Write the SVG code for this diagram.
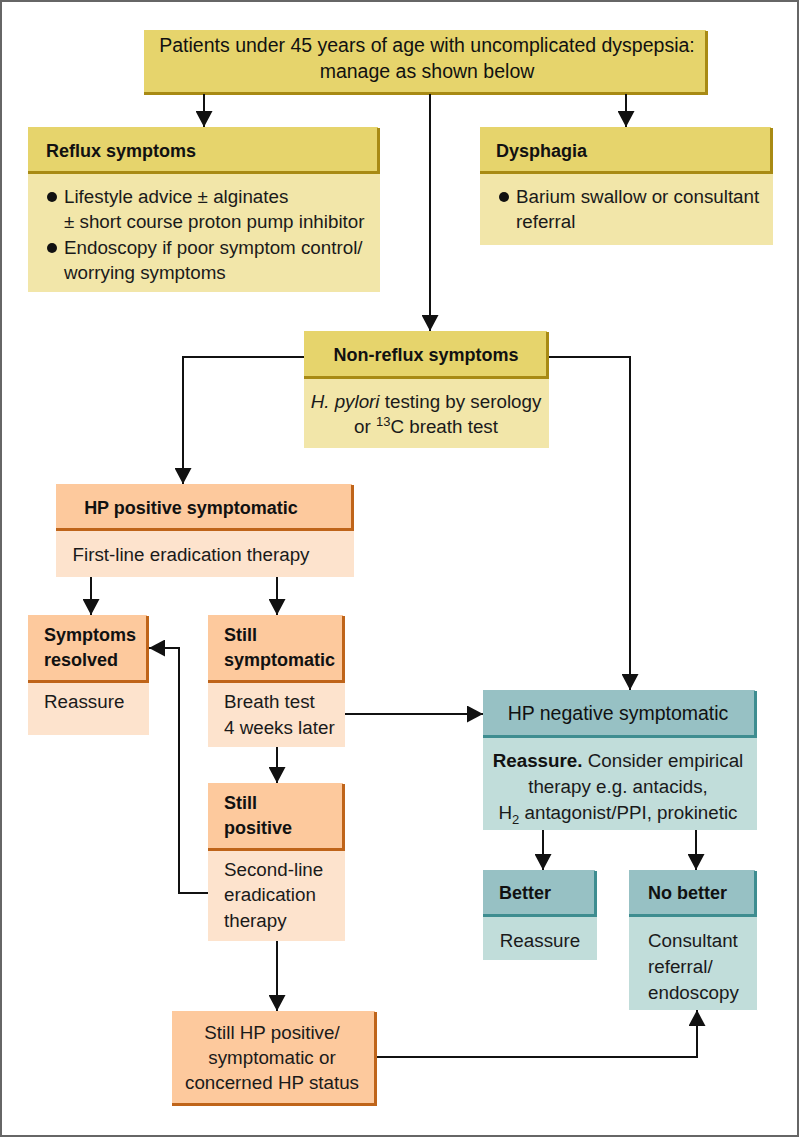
<svg xmlns="http://www.w3.org/2000/svg" width="800" height="1139" viewBox="0 0 800 1139">
<style>
text{font-family:"Liberation Sans",Arial,sans-serif;font-size:18.8px;fill:#1a1a1a}
.h{font-weight:bold;fill:#111;font-size:18px}
.t{font-size:19.5px;fill:#111}
.m{text-anchor:middle}
.hy{fill:#E6D46C}.by{fill:#F2E6A9}
.ho{fill:#FDC99D}.bo{fill:#FDE3CD}
.ht{fill:#97C1C4}.bt{fill:#C1DDDA}
.sh{fill:none;stroke-width:3}
.sy{stroke:#A88A14}.so{stroke:#BF6419}.st{stroke:#3E8D90}
.c{fill:none;stroke:#111;stroke-width:2;marker-end:url(#ar)}
</style>
<defs>
<marker id="ar" viewBox="0 0 16 17" refX="16" refY="8.5" markerWidth="16" markerHeight="17" markerUnits="userSpaceOnUse" orient="auto"><path d="M0,0 L16,8.5 L0,17 z" fill="#111"/></marker>
</defs>
<rect x="1" y="1" width="797" height="1135" fill="#fff" stroke="#666" stroke-width="2"/>

<g id="top">
<rect class="hy" x="144" y="30" width="562" height="62"/>
<path class="sh sy" d="M706.5,31 V93.5 H144"/>
<text class="t m" x="427" y="52">Patients under 45 years of age with uncomplicated dyspepsia:</text>
<text class="t m" x="427" y="78">manage as shown below</text>
</g>

<g id="reflux">
<rect class="hy" x="28" y="127" width="350" height="44"/>
<rect class="by" x="28" y="173" width="352" height="119"/>
<path class="sh sy" d="M378.5,128 V172.5 H28"/>
<text class="h" x="46" y="157">Reflux symptoms</text>
<circle cx="52" cy="197" r="5" fill="#111"/>
<text x="64" y="203">Lifestyle advice ± alginates</text>
<text x="64" y="228">± short course proton pump inhibitor</text>
<circle cx="52" cy="248" r="5" fill="#111"/>
<text x="64" y="254">Endoscopy if poor symptom control/</text>
<text x="64" y="279">worrying symptoms</text>
</g>

<g id="dysphagia">
<rect class="hy" x="480" y="127" width="291" height="44"/>
<rect class="by" x="480" y="173" width="293" height="72"/>
<path class="sh sy" d="M771.5,128 V172.5 H480"/>
<text class="h" x="496" y="157">Dysphagia</text>
<circle cx="504" cy="197" r="5" fill="#111"/>
<text x="516" y="203">Barium swallow or consultant</text>
<text x="516" y="228">referral</text>
</g>

<g id="nonreflux">
<rect class="hy" x="304" y="331" width="243" height="45"/>
<rect class="by" x="304" y="378" width="245" height="70"/>
<path class="sh sy" d="M547.5,332 V377.5 H304"/>
<text class="h m" x="426" y="361">Non-reflux symptoms</text>
<text class="m" x="426" y="408"><tspan font-style="italic">H. pylori</tspan> testing by serology</text>
<text class="m" x="426" y="433">or <tspan font-size="13" dy="-7">13</tspan><tspan dy="7">C breath test</tspan></text>
</g>

<g id="hppos">
<rect class="ho" x="56" y="484" width="296" height="44"/>
<rect class="bo" x="56" y="530" width="298" height="47"/>
<path class="sh so" d="M352.5,485 V529.5 H56"/>
<text class="h m" x="191" y="514">HP positive symptomatic</text>
<text class="m" x="191" y="561">First-line eradication therapy</text>
</g>

<g id="resolved">
<rect class="ho" x="28" y="615" width="119" height="65"/>
<rect class="bo" x="28" y="682" width="121" height="53"/>
<path class="sh so" d="M147.5,616 V681.5 H28"/>
<text class="h" x="44" y="641">Symptoms</text>
<text class="h" x="44" y="666">resolved</text>
<text x="44" y="708">Reassure</text>
</g>

<g id="stillsym">
<rect class="ho" x="208" y="615" width="135" height="65"/>
<rect class="bo" x="208" y="682" width="137" height="65"/>
<path class="sh so" d="M343.5,616 V681.5 H208"/>
<text class="h" x="224" y="641">Still</text>
<text class="h" x="224" y="666">symptomatic</text>
<text x="224" y="708">Breath test</text>
<text x="224" y="734">4 weeks later</text>
</g>

<g id="stillpos">
<rect class="ho" x="208" y="783" width="135" height="65"/>
<rect class="bo" x="208" y="850" width="137" height="91"/>
<path class="sh so" d="M343.5,784 V849.5 H208"/>
<text class="h" x="224" y="809">Still</text>
<text class="h" x="224" y="834">positive</text>
<text x="224" y="876">Second-line</text>
<text x="224" y="901">eradication</text>
<text x="224" y="927">therapy</text>
</g>

<g id="stillhp">
<rect class="ho" x="172" y="1011" width="203" height="92"/>
<path class="sh so" d="M375.5,1012 V1104.5 H172"/>
<text class="m" x="272" y="1039">Still HP positive/</text>
<text class="m" x="272" y="1064">symptomatic or</text>
<text class="m" x="272" y="1089">concerned HP status</text>
</g>

<g id="hpneg">
<rect class="ht" x="483" y="690" width="272" height="45"/>
<rect class="bt" x="483" y="737" width="274" height="93"/>
<path class="sh st" d="M755.5,691 V736.5 H483"/>
<text class="t m" x="618" y="720">HP negative symptomatic</text>
<text class="m" x="618" y="767"><tspan font-weight="bold" fill="#111">Reassure.</tspan> Consider empirical</text>
<text class="m" x="618" y="793">therapy e.g. antacids,</text>
<text class="m" x="618" y="819">H<tspan font-size="13" dy="5">2</tspan><tspan dy="-5"> antagonist/PPI, prokinetic</tspan></text>
</g>

<g id="better">
<rect class="ht" x="483" y="870" width="112" height="44"/>
<rect class="bt" x="483" y="916" width="114" height="44"/>
<path class="sh st" d="M595.5,871 V915.5 H483"/>
<text class="h" x="499" y="899">Better</text>
<text class="m" x="540" y="947">Reassure</text>
</g>

<g id="nobetter">
<rect class="ht" x="629" y="870" width="126" height="44"/>
<rect class="bt" x="629" y="916" width="128" height="94"/>
<path class="sh st" d="M755.5,871 V915.5 H629"/>
<text class="h" x="648" y="899">No better</text>
<text x="648" y="947">Consultant</text>
<text x="648" y="973">referral/</text>
<text x="648" y="999">endoscopy</text>
</g>

<g id="connectors">
<path class="c" d="M204,94 V127"/>
<path class="c" d="M626,94 V127"/>
<path class="c" d="M430,94 V331"/>
<path class="c" d="M304,357 H183 V484"/>
<path class="c" d="M549,357 H630 V690"/>
<path class="c" d="M91,577 V615"/>
<path class="c" d="M277,577 V615"/>
<path class="c" d="M345,714 H483"/>
<path class="c" d="M277,747 V783"/>
<path class="c" d="M208,893 H179 V648 H149"/>
<path class="c" d="M277,941 V1011"/>
<path class="c" d="M377,1057 H697 V1010"/>
<path class="c" d="M543,830 V870"/>
<path class="c" d="M696,830 V870"/>
</g>
</svg>
